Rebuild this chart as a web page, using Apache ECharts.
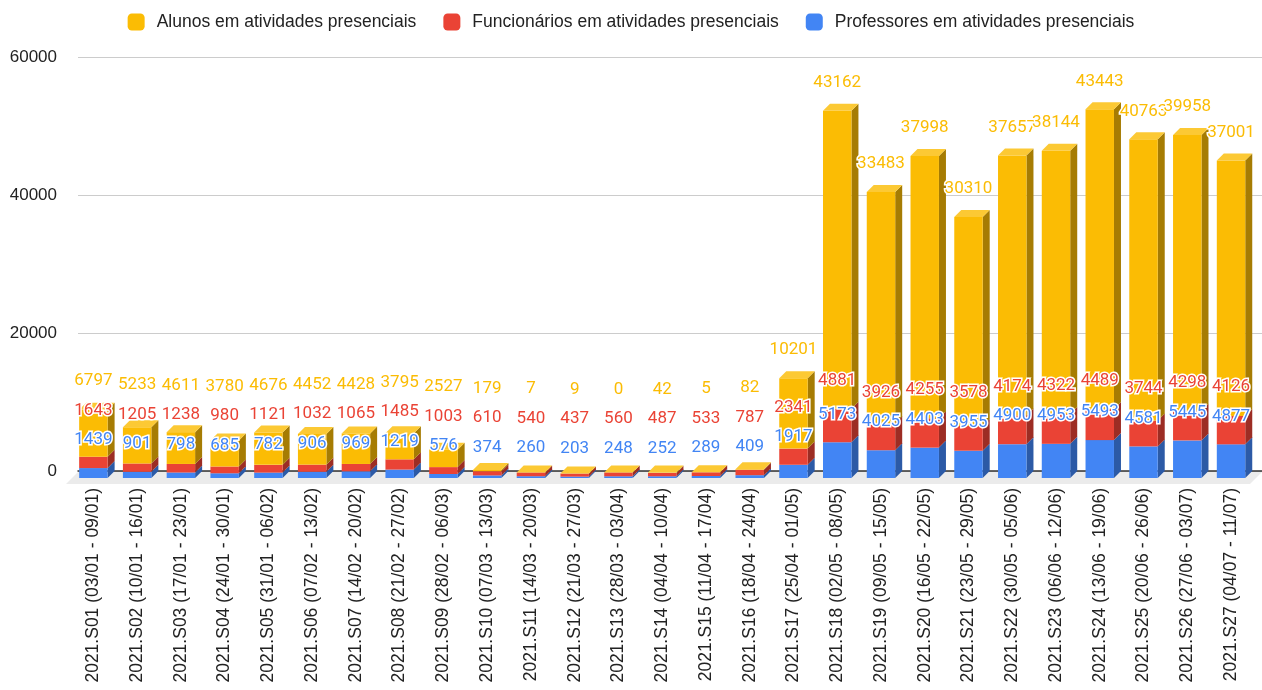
<!DOCTYPE html>
<html>
<head>
<meta charset="utf-8">
<script src="https://cdn.jsdelivr.net/npm/echarts@6/dist/echarts.min.js"></script>
<style>html,body{margin:0;padding:0;background:#fff;}#chart{width:1262px;height:690px;}</style>
</head>
<body>
<div id="chart"></div>
<script>
const categories = [
  '2021.S01 (03/01 - 09/01)','2021.S02 (10/01 - 16/01)','2021.S03 (17/01 - 23/01)','2021.S04 (24/01 - 30/01)',
  '2021.S05 (31/01 - 06/02)','2021.S06 (07/02 - 13/02)','2021.S07 (14/02 - 20/02)','2021.S08 (21/02 - 27/02)',
  '2021.S09 (28/02 - 06/03)','2021.S10 (07/03 - 13/03)','2021.S11 (14/03 - 20/03)','2021.S12 (21/03 - 27/03)',
  '2021.S13 (28/03 - 03/04)','2021.S14 (04/04 - 10/04)','2021.S15 (11/04 - 17/04)','2021.S16 (18/04 - 24/04)',
  '2021.S17 (25/04 - 01/05)','2021.S18 (02/05 - 08/05)','2021.S19 (09/05 - 15/05)','2021.S20 (16/05 - 22/05)',
  '2021.S21 (23/05 - 29/05)','2021.S22 (30/05 - 05/06)','2021.S23 (06/06 - 12/06)','2021.S24 (13/06 - 19/06)',
  '2021.S25 (20/06 - 26/06)','2021.S26 (27/06 - 03/07)','2021.S27 (04/07 - 11/07)'
];
const professores = [1439,901,798,685,782,906,969,1219,576,374,260,203,248,252,289,409,1917,5173,4025,4403,3955,4900,4953,5493,4581,5445,4877];
const funcionarios = [1643,1205,1238,980,1121,1032,1065,1485,1003,610,540,437,560,487,533,787,2341,4881,3926,4255,3578,4174,4322,4489,3744,4298,4126];
const alunos = [6797,5233,4611,3780,4676,4452,4428,3795,2527,179,7,9,0,42,5,82,10201,43162,33483,37998,30310,37657,38144,43443,40763,39958,37001];
const yTicks = [0, 20000, 40000, 60000];

const seriesNames = ['Alunos em atividades presenciais','Funcionários em atividades presenciais','Professores em atividades presenciais'];
const COL = {
  yellow: {front:'#fbbc04', side:'#a67c03', top:'#fcc934'},
  red:    {front:'#ea4335', side:'#9c2d24', top:'#ef6a5e'},
  blue:   {front:'#4285f4', side:'#2c5aa6', top:'#6fa3f7'}
};
const D = 7;          // 3D depth offset (px)
const FLOOR = 12;     // floor depth (px)

// stacking
const stackOrder = [professores, funcionarios, alunos];
function stackData(k) {
  return categories.map((c, i) => {
    let base = 0;
    for (let j = 0; j < k; j++) base += stackOrder[j][i];
    return [i, base, base + stackOrder[k][i]];
  });
}

function barRenderer(col, isTop) {
  return function (params, api) {
    const i = api.value(0), b = api.value(1), t = api.value(2);
    const pb = api.coord([i, b]), pt = api.coord([i, t]);
    const w = api.size([1, 0])[0] * 0.65;
    const x0 = pb[0] - w / 2, x1 = x0 + w, yb = pb[1], yt = pt[1];
    const children = [
      {type:'polygon', shape:{points:[[x1,yt],[x1+D,yt-D],[x1+D,yb-D],[x1,yb]]}, style:{fill:col.side}},
      {type:'rect', shape:{x:x0, y:yt, width:w, height:Math.max(yb-yt,0)}, style:{fill:col.front}}
    ];
    if (isTop) {
      children.push({type:'polygon', shape:{points:[[x0,yt],[x0+D,yt-D],[x1+D,yt-D],[x1,yt]]}, style:{fill:col.top}});
    }
    return {type:'group', children};
  };
}

const labelData = categories.map((c, i) => [i, professores[i], funcionarios[i], alunos[i]]);

function labelRenderer(params, api) {
  const i = api.value(0);
  const vb = api.value(1), vr = api.value(2), vy = api.value(3);
  const yB = api.coord([i, vb])[1];
  const yR = api.coord([i, vb + vr])[1];
  const yY = api.coord([i, vb + vr + vy])[1];
  const x = api.coord([i, 0])[0];
  const OFF = 28, GAP = 29.5;
  const lb = yB - OFF;
  const lr = Math.min(yR - OFF, lb - GAP);
  const ly = Math.min(yY - OFF, lr - GAP);
  function txt(v, y, color) {
    return {type:'text', x:x, y:y, style:{text:String(v), fill:color, stroke:'#fff', lineWidth:3,
      font:'17px Roboto, "Noto Sans", sans-serif', align:'center', verticalAlign:'middle'}};
  }
  return {type:'group', children:[
    txt(vb, lb, COL.blue.front), txt(vr, lr, COL.red.front), txt(vy, ly, COL.yellow.front)
  ]};
}

function floorRenderer(params, api) {
  const cs = params.coordSys;
  const yb = cs.y + cs.height + 1;
  const xl = cs.x, xr = cs.x + cs.width;
  return {type:'polygon', shape:{points:[[xl,yb],[xr,yb],[xr-FLOOR,yb+FLOOR],[xl-FLOOR,yb+FLOOR]]}, style:{fill:'#ebebeb'}};
}

const chart = echarts.init(document.getElementById('chart'));
chart.setOption({
  animation: false,
  backgroundColor: '#fff',
  legend: {
    top: 8, left: 'center',
    data: seriesNames,
    itemWidth: 17, itemHeight: 17, itemGap: 27,
    icon: 'roundRect',
    textStyle: {fontSize: 17.5, color: '#222', fontFamily: '"Liberation Sans", Arial, sans-serif', padding: [0,0,0,7]}
  },
  grid: [
    {left: 71.5, right: 9.1, top: 64, bottom: 212},
    {left: 78, right: 0, top: 57, bottom: 219}
  ],
  xAxis: [
    {gridIndex: 0, type: 'category', data: categories,
      axisLine: {show: false}, axisTick: {show: false},
      axisLabel: {interval: 0, rotate: 90, margin: 10, fontSize: 17.5, color: '#222', fontFamily: '"Liberation Sans", Arial, sans-serif'}},
    {gridIndex: 1, type: 'value', min: 0, max: 1,
      axisLabel: {show: false}, axisTick: {show: false}, splitLine: {show: false},
      axisLine: {show: true, lineStyle: {color: '#333', width: 1.5}}}
  ],
  yAxis: [
    {gridIndex: 0, type: 'value', min: 0, max: 60000, show: false},
    {gridIndex: 1, type: 'value', min: yTicks[0], max: yTicks[yTicks.length-1], interval: yTicks[1]-yTicks[0],
      axisLine: {show: false}, axisTick: {show: false},
      axisLabel: {margin: 21, fontSize: 17, color: '#222', fontFamily: '"Liberation Sans", Arial, sans-serif',
        formatter: v => String(v)},
      splitLine: {lineStyle: {color: '#cccccc', width: 1}}}
  ],
  series: [
    {type:'custom', name:'floor', xAxisIndex:1, yAxisIndex:1, data:[[0,0]], renderItem: floorRenderer, silent:true, z:1},
    {type:'custom', name: seriesNames[2], xAxisIndex:0, yAxisIndex:0, data: stackData(0),
      encode:{x:0, y:[1,2]}, renderItem: barRenderer(COL.blue, false), itemStyle:{color: COL.blue.front}, z:3},
    {type:'custom', name: seriesNames[1], xAxisIndex:0, yAxisIndex:0, data: stackData(1),
      encode:{x:0, y:[1,2]}, renderItem: barRenderer(COL.red, false), itemStyle:{color: COL.red.front}, z:4},
    {type:'custom', name: seriesNames[0], xAxisIndex:0, yAxisIndex:0, data: stackData(2),
      encode:{x:0, y:[1,2]}, renderItem: barRenderer(COL.yellow, true), itemStyle:{color: COL.yellow.front}, z:5},
    {type:'custom', name:'labels', xAxisIndex:0, yAxisIndex:0, data: labelData,
      encode:{x:0, y:[1]}, renderItem: labelRenderer, silent:true, z:10}
  ]
});
</script>
</body>
</html>
